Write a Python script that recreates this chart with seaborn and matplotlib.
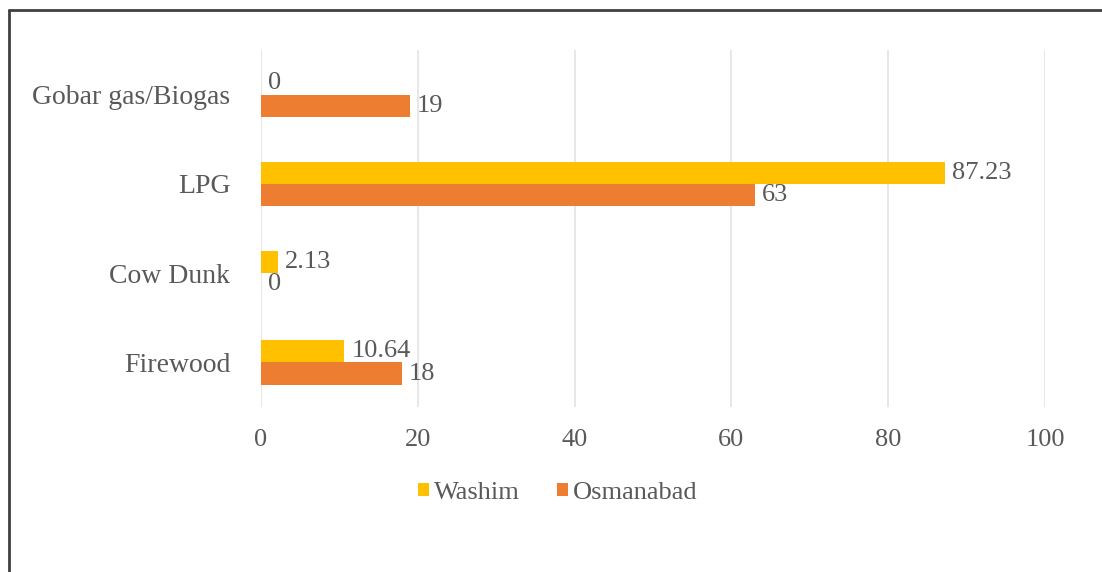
import matplotlib
matplotlib.use("Agg")
import matplotlib.pyplot as plt
import seaborn as sns
import pandas as pd
from matplotlib.patches import Patch
from matplotlib.lines import Line2D

# donnees
categories = ["Gobar gas/Biogas", "LPG", "Cow Dunk", "Firewood"]
districts = ["Washim", "Osmanabad"]
washim = [0, 87.23, 2.13, 10.64]
osmanabad = [19, 63, 0, 18]
x_ticks = [0, 20, 40, 60, 80, 100]

couleurs = ["#FFC000", "#ED7D31"]
gris_texte = "#595959"

sns.set_theme(style="white")
plt.rcParams['font.family'] = ['Liberation Serif', 'DejaVu Serif']

df = pd.DataFrame({
    "Source": categories * 2,
    "District": [districts[0]] * len(categories) + [districts[1]] * len(categories),
    "Valeur": washim + osmanabad,
})

fig = plt.figure(figsize=(11.02, 5.72), dpi=100)
ax = fig.add_axes([0.2368, 0.2885, 0.9483 - 0.2368, 0.9126 - 0.2885])

sns.barplot(data=df, x="Valeur", y="Source", hue="District", order=categories,
            hue_order=districts, palette=couleurs, orient="h", width=0.5,
            saturation=1, legend=False, linewidth=0, ax=ax)

for cont in ax.containers:
    ax.bar_label(cont, fmt="{:g}", padding=5, fontsize=19, color=gris_texte)

ax.set_xlim(0, 100)
ax.set_ylim(3.5, -0.5)
ax.set_xticks(x_ticks)
ax.set_xlabel("")
ax.set_ylabel("")
ax.grid(axis="x", color="#E3E3E3", linewidth=1.2)
ax.set_axisbelow(True)
for s in ax.spines.values():
    s.set_visible(False)
ax.tick_params(axis="both", length=0, labelsize=19, colors=gris_texte)
ax.tick_params(axis="y", pad=22, labelsize=20)
ax.tick_params(axis="x", pad=16)

# legende en bas
handles = [Patch(facecolor=c, edgecolor="none") for c in couleurs]
fig.legend(handles, districts, loc="center", bbox_to_anchor=(558 / 1102, 1 - 493 / 572),
           ncol=2, frameon=False, fontsize=19, labelcolor=gris_texte,
           handlelength=0.4, handleheight=0.4, handletextpad=0.2, columnspacing=1.4)

# cadre haut / gauche
cadre = "#404040"
fig.add_artist(Line2D([9 / 1102, 9 / 1102], [0, 1 - 10 / 572], color=cadre, linewidth=2,
                      transform=fig.transFigure))
fig.add_artist(Line2D([9 / 1102, 1], [1 - 10 / 572, 1 - 10 / 572], color=cadre, linewidth=2,
                      transform=fig.transFigure))

fig.savefig("out.png", dpi=100, facecolor="white")
